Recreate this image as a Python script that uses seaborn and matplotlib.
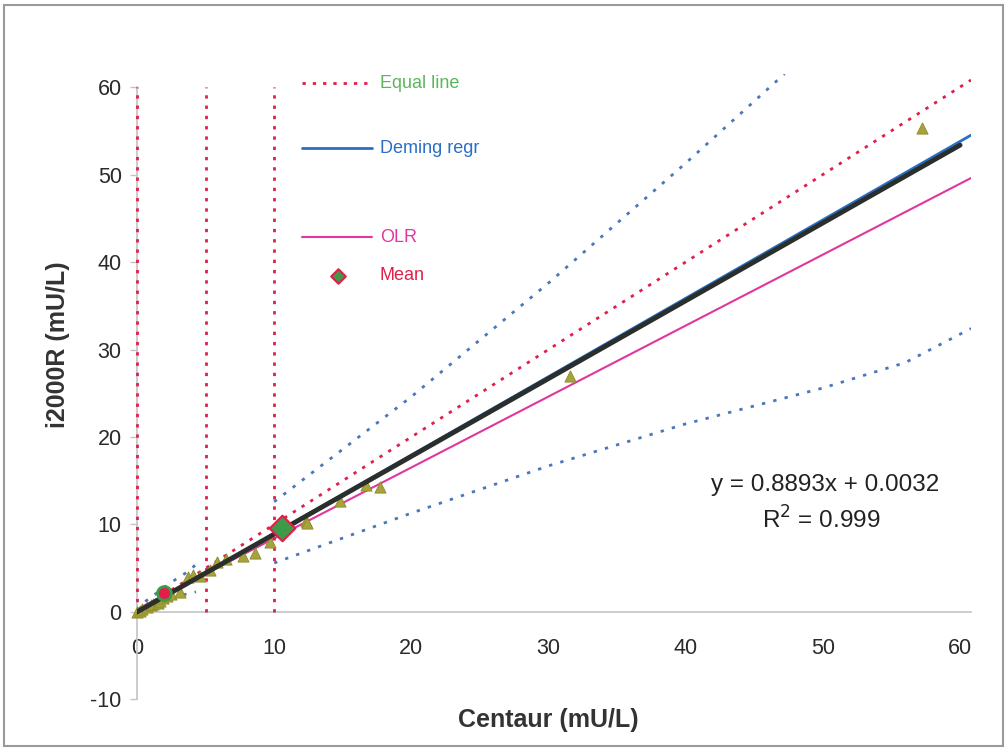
"""
Centaur vs i2000R method comparison
"""

import numpy as np
import pandas as pd
import matplotlib.pyplot as plt
import seaborn as sns
from matplotlib.patches import Rectangle

# samples
centaur = [0.0, 0.2, 0.4, 0.7, 1.0, 1.2, 1.5, 1.7, 1.9, 2.2, 2.5, 3.1, 3.7, 4.1, 4.6,
           5.3, 5.8, 6.5, 7.7, 8.6, 9.7, 12.3, 12.4, 14.8, 16.7, 17.7, 31.6, 57.2]
i2000r = [0.0, 0.1, 0.3, 0.6, 0.8, 0.9, 1.0, 1.3, 1.6, 1.8, 2.0, 2.3, 4.0, 4.2, 4.1,
          4.8, 5.7, 6.1, 6.4, 6.7, 8.0, 10.4, 10.2, 12.7, 14.5, 14.3, 27.0, 55.3]

# means of the two ranges
mean_low = (2.0, 2.2)
mean_high = (10.6, 9.6)

# lines
equal_x = [0, 60.8]
equal_y = [0, 60.8]
deming_x = [0, 60.8]
deming_y = [0, 54.5]
olr_x = [0, 60.8]
olr_y = [0.3, 49.6]
trend_x = [0, 60]
trend_y = [0.0, 53.36]

# confidence bands (dotted blue)
ci_hi_x = [10, 20, 30, 40, 47.2]
ci_hi_y = [12.6, 24.6, 37.6, 51.3, 61.5]
ci_lo_x = [10, 20, 30, 40, 50, 56, 60.8]
ci_lo_y = [5.6, 11.3, 16.7, 21.5, 25.6, 28.5, 32.4]
ci_hi_low_x = [0.6, 2.6, 3.5, 4.7]
ci_hi_low_y = [1.2, 3.5, 4.4, 5.9]
ci_lo_low_x = [1.0, 3.2, 4.3]
ci_lo_low_y = [0.5, 1.9, 2.3]

range_cuts = [0, 5, 10]

red = "#e0204a"
blue = "#2a6fc4"
magenta = "#e0369e"
olive = "#a8a23a"
green = "#3c9a48"

sns.set_style("white")
plt.rcParams["font.family"] = ["Liberation Sans", "DejaVu Sans"]
plt.rcParams["axes.unicode_minus"] = False

fig = plt.figure(figsize=(10.05, 7.51), dpi=100)
ax = fig.add_axes([0.1363, 0.0686, 0.8299, 0.833])

for xc in range_cuts:
    ax.plot([xc, xc], [0, 60], color=red, ls=(0, (1.2, 2.5)), lw=2, clip_on=False, zorder=3)

ax.plot(equal_x, equal_y, color=red, ls=(0, (1.2, 2.5)), lw=2)
ax.plot(ci_hi_x, ci_hi_y, color="#4a78b8", ls=(0, (1.2, 3)), lw=2)
ax.plot(ci_lo_x, ci_lo_y, color="#4a78b8", ls=(0, (1.2, 3)), lw=2)
ax.plot(ci_hi_low_x, ci_hi_low_y, color="#4a78b8", ls=(0, (1.2, 3)), lw=2)
ax.plot(ci_lo_low_x, ci_lo_low_y, color="#4a78b8", ls=(0, (1.2, 3)), lw=2)

ax.plot(olr_x, olr_y, color=magenta, lw=1.5)
ax.plot(deming_x, deming_y, color=blue, lw=2)

df = pd.DataFrame({"Centaur": centaur, "i2000R": i2000r})
sns.scatterplot(data=df, x="Centaur", y="i2000R", marker="^", s=65, color=olive,
                edgecolor="#8a8a2a", linewidth=0.6, ax=ax, zorder=4, clip_on=False)

sns.lineplot(x=trend_x, y=trend_y, color="#2b2f2b", lw=3.5, ax=ax, zorder=5)

ax.scatter([mean_high[0]], [mean_high[1]], marker="D", s=170, color=green,
           edgecolor=red, linewidth=1.5, zorder=6)
ax.scatter([mean_low[0]], [mean_low[1]], marker="o", s=100, color=red,
           edgecolor=green, linewidth=2, zorder=6)

ax.set_xlim(0, 60.8)
ax.set_ylim(-10, 61.5)
ax.set_xticks(range(0, 61, 10))
ax.set_yticks(range(-10, 61, 10))

for s in ["top", "right"]:
    ax.spines[s].set_visible(False)
ax.spines["bottom"].set_position(("data", 0))
ax.spines["left"].set_bounds(-10, 60)
for s in ["bottom", "left"]:
    ax.spines[s].set_color("#c4c4c4")
    ax.spines[s].set_linewidth(1.2)
ax.tick_params(axis="x", length=0, pad=19, labelsize=15.5, colors="#2a2a2a")
ax.tick_params(axis="y", length=5, width=1, color="#c4c4c4", pad=6, labelsize=15.5,
               labelcolor="#2a2a2a", direction="out", left=True)

ax.set_xlabel("Centaur (mU/L)", fontsize=18, fontweight="bold", color="#333333")
ax.set_ylabel("i2000R (mU/L)", fontsize=18, fontweight="bold", color="#333333")
ax.xaxis.set_label_coords(0.493, -0.013)
ax.yaxis.set_label_coords(-0.08, 0.567)

# legend drawn like the Excel one
tr = ax.transAxes
ax.plot([0.198, 0.282], [0.9854, 0.9854], transform=tr, color=red, ls=(0, (1.2, 2.5)), lw=2, clip_on=False)
ax.text(0.291, 0.9854, "Equal line", transform=tr, color="#5bb65b", fontsize=13, va="center")
ax.plot([0.198, 0.282], [0.8815, 0.8815], transform=tr, color=blue, lw=2)
ax.text(0.291, 0.8815, "Deming regr", transform=tr, color=blue, fontsize=13, va="center")
ax.plot([0.198, 0.282], [0.739, 0.739], transform=tr, color=magenta, lw=1.5)
ax.text(0.291, 0.739, "OLR", transform=tr, color=magenta, fontsize=13, va="center")
ax.scatter([0.241], [0.677], transform=tr, marker="D", s=55, color=green, edgecolor=red, linewidth=1.5)
ax.text(0.291, 0.677, "Mean", transform=tr, color=red, fontsize=13, va="center")

ax.text(0.825, 0.3428, "y = 0.8893x + 0.0032", transform=tr, fontsize=17.5, ha="center", va="center", color="#222222")
ax.text(0.82, 0.2868, "R$^2$ = 0.999", transform=tr, fontsize=17.5, ha="center", va="center", color="#222222")

fig.patches.append(Rectangle((0.004, 0.006), 0.994, 0.987, transform=fig.transFigure,
                             fill=False, edgecolor="#9a9a9a", lw=1.5))

plt.savefig("out.png", dpi=100)
